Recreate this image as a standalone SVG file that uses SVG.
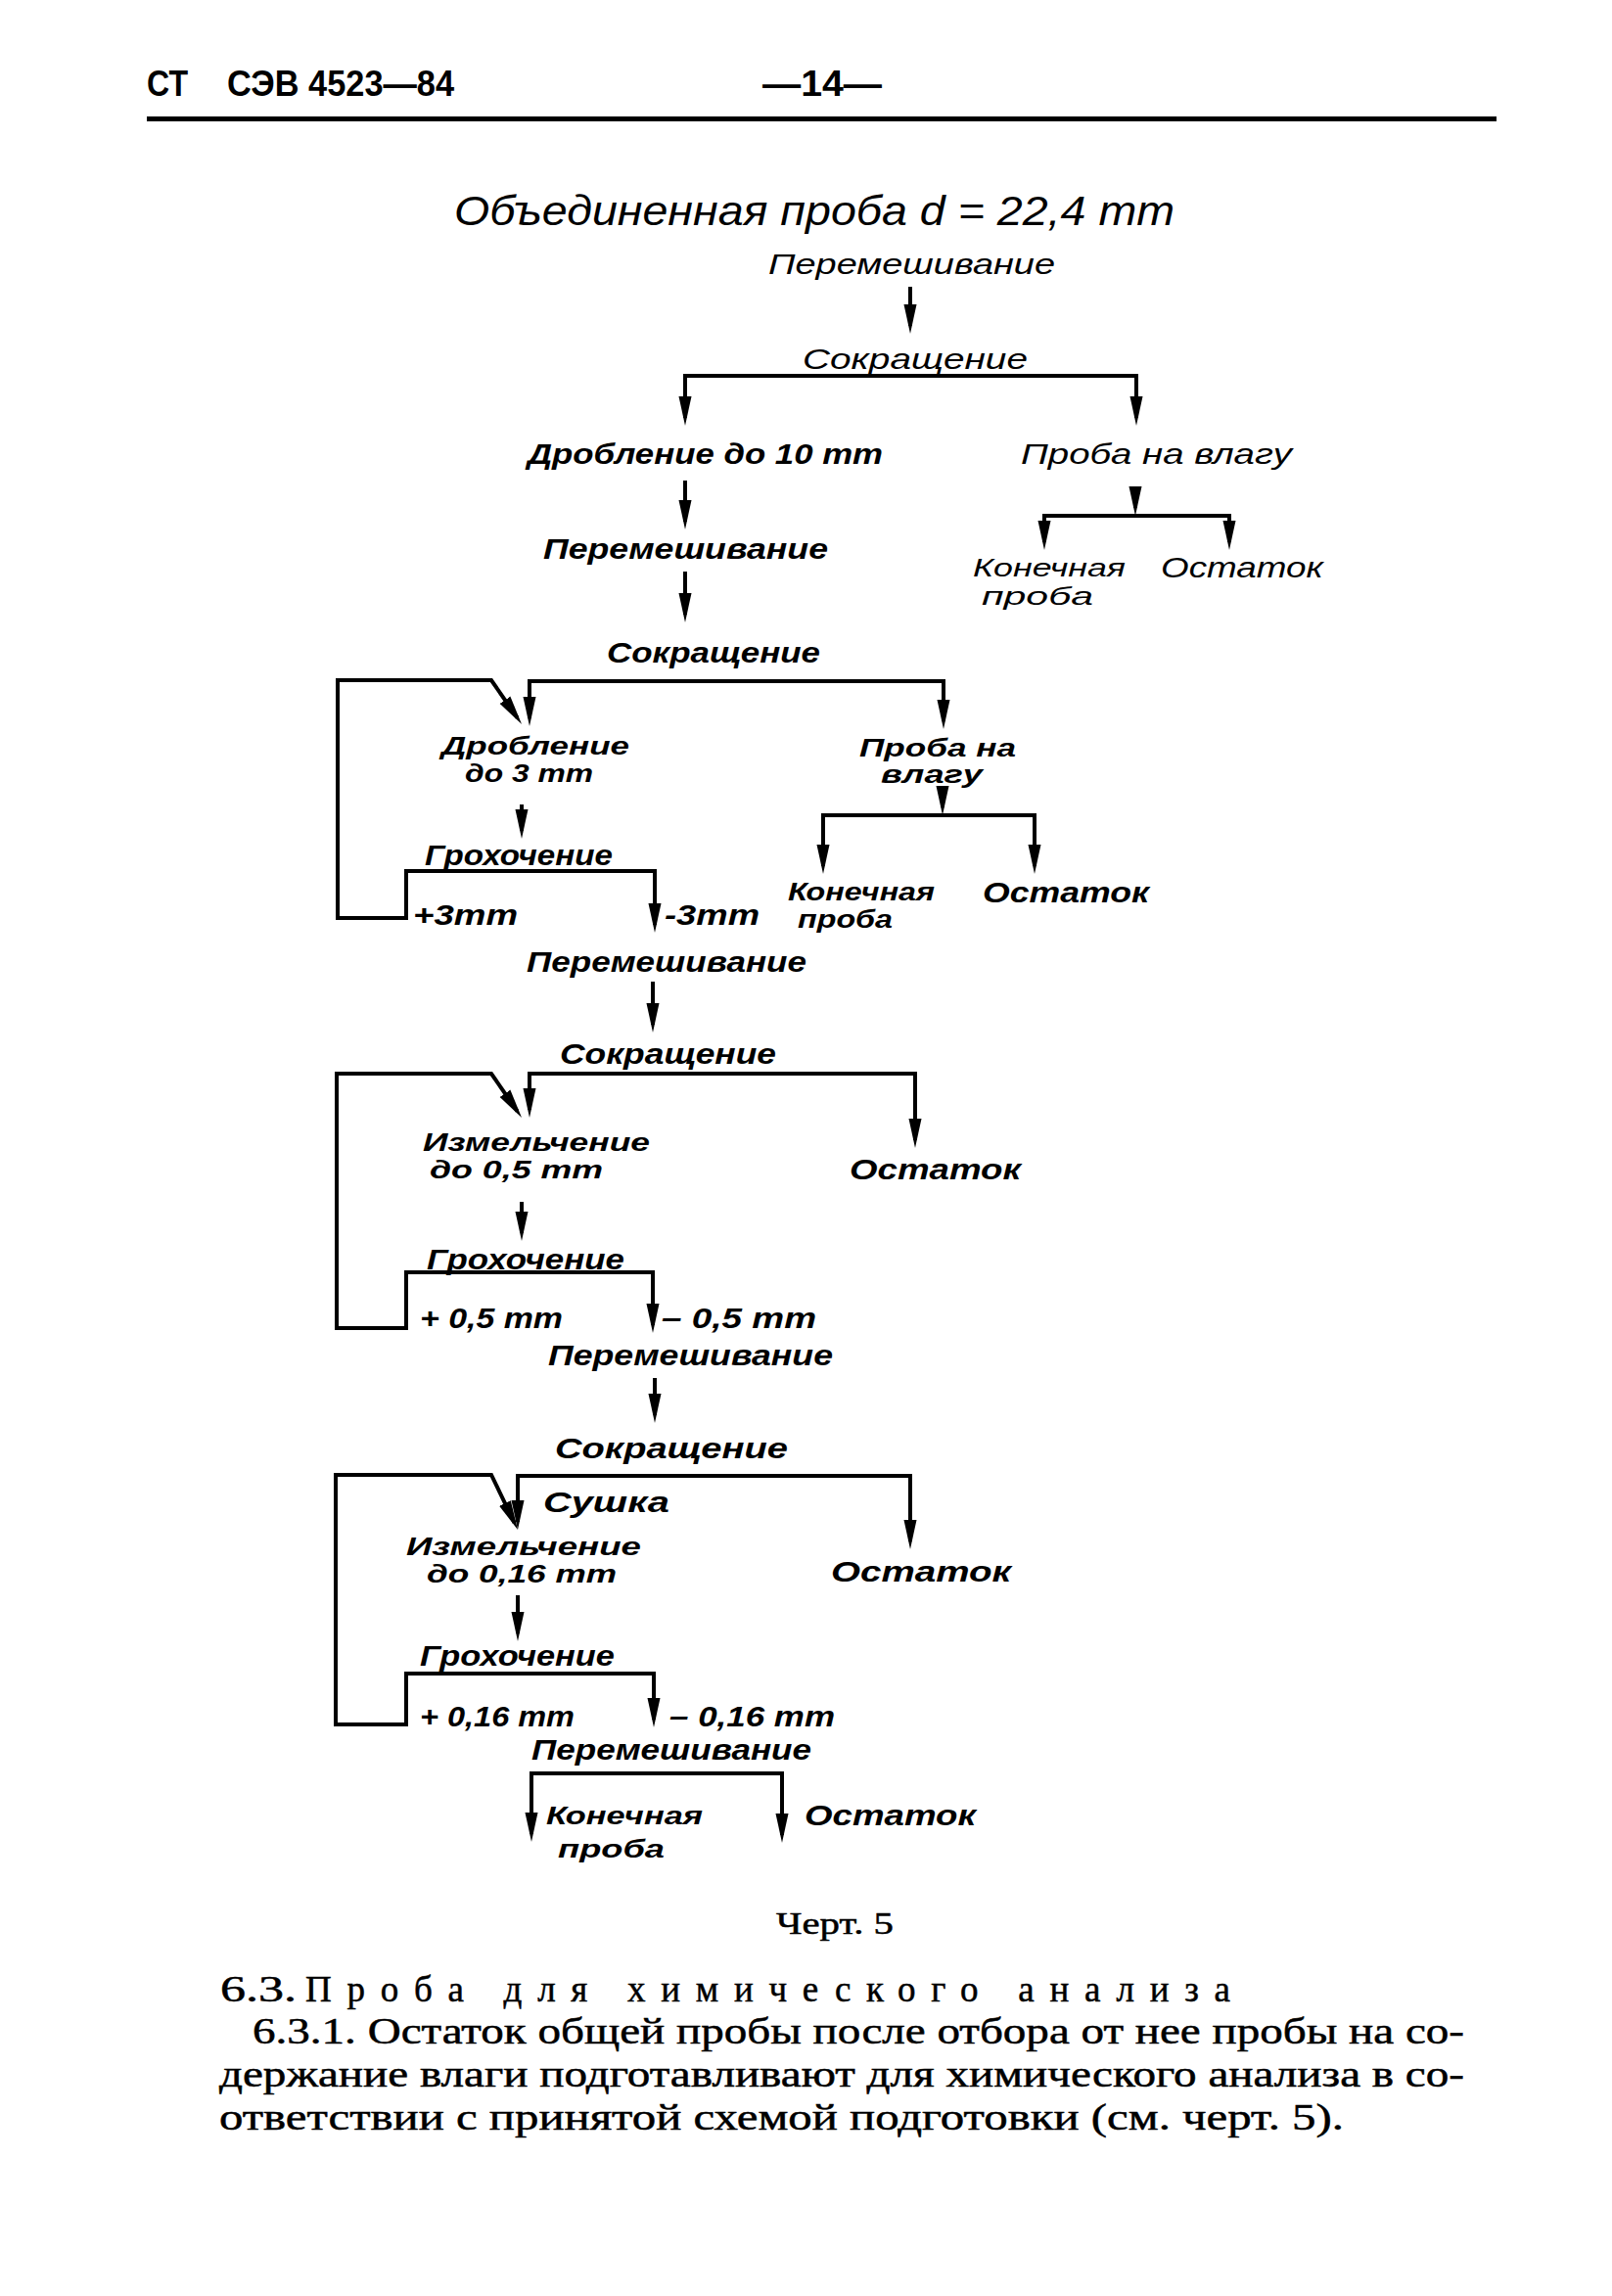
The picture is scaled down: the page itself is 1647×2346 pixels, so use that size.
<svg xmlns="http://www.w3.org/2000/svg" width="1647" height="2346" viewBox="0 0 1647 2346">
<style>
.hd{font-family:"Liberation Sans Narrow","Liberation Sans",sans-serif;font-weight:bold;font-size:36px;fill:#000}
.l{font-family:"Liberation Sans Narrow","Liberation Sans","DejaVu Sans",sans-serif;font-style:italic;font-size:30px;fill:#000}
.s{font-size:25px}
.lt{font-weight:normal}
.b{font-weight:bold}
.bd{font-family:"Liberation Serif","DejaVu Serif",serif;font-size:37px;fill:#000;stroke:#000;stroke-width:0.5px}
.ln{fill:none;stroke:#000;stroke-width:4;stroke-linejoin:miter}
.a{marker-end:url(#ah)}
.a2{marker-start:url(#ah);marker-end:url(#ah)}
</style>
<defs>
<marker id="ah" markerUnits="userSpaceOnUse" markerWidth="32" markerHeight="16" viewBox="0 0 32 16" refX="22" refY="8" orient="auto-start-reverse">
<path d="M0,1.5 L30,8 L0,14.5 Z" fill="#000"/>
</marker>
</defs>
<rect width="1647" height="2346" fill="#fff"/>

<g id="header">
<text class="hd" x="150" y="98" textLength="42" lengthAdjust="spacingAndGlyphs">СТ</text>
<text class="hd" x="232" y="98" textLength="232" lengthAdjust="spacingAndGlyphs">СЭВ 4523—84</text>
<text class="hd" x="779" y="98" textLength="122" lengthAdjust="spacingAndGlyphs">—14—</text>
<rect x="150" y="119" width="1379" height="5" fill="#000"/>
</g>

<g id="connectors">
<path class="ln a" d="M930 293 V333"/>
<path class="ln a2" d="M700 427 V384 H1161 V427"/>
<path class="ln a" d="M700 491 V533"/>
<path class="ln a" d="M1160 497 V519"/>
<path class="ln a2" d="M1067 554 V527 H1256 V554"/>
<path class="ln a" d="M700 584 V628"/>
<path class="ln a2" d="M541 734 V696 H964 V737"/>
<path class="ln a2" d="M669 945 V890 H415 V938 H345 V695 H502 L528.5 733.4"/>
<path class="ln a" d="M533 822 V849"/>
<path class="ln a" d="M963 808 V825"/>
<path class="ln a2" d="M841 885 V833 H1057 V885"/>
<path class="ln a" d="M667 1003 V1047"/>
<path class="ln a2" d="M541 1134 V1097 H935 V1165"/>
<path class="ln a2" d="M667 1354 V1300 H415 V1357 H344 V1097 H502 L528.5 1135.4"/>
<path class="ln a" d="M533 1228 V1260"/>
<path class="ln a" d="M669 1408 V1446"/>
<path class="ln a2" d="M529 1555 V1508 H930 V1575"/>
<path class="ln a2" d="M668 1757 V1710 H415 V1762 H343 V1507 H502 L525.5 1555.8"/>
<path class="ln a" d="M529 1630 V1669"/>
<path class="ln a2" d="M543 1874 V1812 H799 V1875"/>
</g>

<g id="n-title"><text class="l lt" x="464" y="230" style="font-size:42px" textLength="736" lengthAdjust="spacingAndGlyphs">Объединенная проба  d = 22,4 mm</text></g>
<g id="n-mix1"><text class="l lt" x="785" y="280" textLength="293" lengthAdjust="spacingAndGlyphs">Перемешивание</text></g>
<g id="n-red1"><text class="l lt" x="820" y="377" textLength="230" lengthAdjust="spacingAndGlyphs">Сокращение</text></g>
<g id="n-crush10"><text class="l b" x="539" y="474" textLength="363" lengthAdjust="spacingAndGlyphs">Дробление до 10 mm</text></g>
<g id="n-moist1"><text class="l lt" x="1043" y="474" textLength="277" lengthAdjust="spacingAndGlyphs">Проба на влагу</text></g>
<g id="n-mix2"><text class="l b" x="555" y="571" textLength="291" lengthAdjust="spacingAndGlyphs">Перемешивание</text></g>
<g id="n-final1">
<text class="l lt s" x="994" y="589" textLength="156" lengthAdjust="spacingAndGlyphs">Конечная</text>
<text class="l lt s" x="1003" y="618" textLength="114" lengthAdjust="spacingAndGlyphs">проба</text>
</g>
<g id="n-rest1"><text class="l lt" x="1186" y="590" textLength="166" lengthAdjust="spacingAndGlyphs">Остаток</text></g>
<g id="n-red2"><text class="l b" x="620" y="677" textLength="218" lengthAdjust="spacingAndGlyphs">Сокращение</text></g>
<g id="n-crush3">
<text class="l b s" x="451" y="771" textLength="192" lengthAdjust="spacingAndGlyphs">Дробление</text>
<text class="l b s" x="475" y="799" textLength="131" lengthAdjust="spacingAndGlyphs">до 3 mm</text>
</g>
<g id="n-moist2">
<text class="l b s" x="878" y="773" textLength="160" lengthAdjust="spacingAndGlyphs">Проба на</text>
<text class="l b s" x="900" y="800" textLength="104" lengthAdjust="spacingAndGlyphs">влагу</text>
</g>
<g id="n-screen1"><text class="l b" x="434" y="884" textLength="192" lengthAdjust="spacingAndGlyphs">Грохочение</text></g>
<g id="n-plus3"><text class="l b" x="422" y="945" textLength="107" lengthAdjust="spacingAndGlyphs">+3mm</text></g>
<g id="n-minus3"><text class="l b" x="679" y="945" textLength="97" lengthAdjust="spacingAndGlyphs">-3mm</text></g>
<g id="n-final2">
<text class="l b s" x="805" y="920" textLength="150" lengthAdjust="spacingAndGlyphs">Конечная</text>
<text class="l b s" x="815" y="948" textLength="97" lengthAdjust="spacingAndGlyphs">проба</text>
</g>
<g id="n-rest2"><text class="l b" x="1004" y="922" textLength="170" lengthAdjust="spacingAndGlyphs">Остаток</text></g>
<g id="n-mix3"><text class="l b" x="538" y="993" textLength="286" lengthAdjust="spacingAndGlyphs">Перемешивание</text></g>
<g id="n-red3"><text class="l b" x="572" y="1087" textLength="221" lengthAdjust="spacingAndGlyphs">Сокращение</text></g>
<g id="n-grind05">
<text class="l b s" x="432" y="1176" textLength="232" lengthAdjust="spacingAndGlyphs">Измельчение</text>
<text class="l b s" x="439" y="1204" textLength="177" lengthAdjust="spacingAndGlyphs">до 0,5 mm</text>
</g>
<g id="n-rest3"><text class="l b" x="868" y="1205" textLength="175" lengthAdjust="spacingAndGlyphs">Остаток</text></g>
<g id="n-screen2"><text class="l b" x="436" y="1297" textLength="202" lengthAdjust="spacingAndGlyphs">Грохочение</text></g>
<g id="n-plus05"><text class="l b" x="429" y="1357" textLength="146" lengthAdjust="spacingAndGlyphs">+ 0,5 mm</text></g>
<g id="n-minus05"><text class="l b" x="676" y="1357" textLength="158" lengthAdjust="spacingAndGlyphs">– 0,5 mm</text></g>
<g id="n-mix4"><text class="l b" x="560" y="1395" textLength="291" lengthAdjust="spacingAndGlyphs">Перемешивание</text></g>
<g id="n-red4"><text class="l b" x="567" y="1490" textLength="238" lengthAdjust="spacingAndGlyphs">Сокращение</text></g>
<g id="n-dry"><text class="l b" x="555" y="1545" textLength="129" lengthAdjust="spacingAndGlyphs">Сушка</text></g>
<g id="n-grind016">
<text class="l b s" x="415" y="1589" textLength="240" lengthAdjust="spacingAndGlyphs">Измельчение</text>
<text class="l b s" x="436" y="1617" textLength="194" lengthAdjust="spacingAndGlyphs">до 0,16 mm</text>
</g>
<g id="n-rest4"><text class="l b" x="849" y="1616" textLength="184" lengthAdjust="spacingAndGlyphs">Остаток</text></g>
<g id="n-screen3"><text class="l b" x="429" y="1702" textLength="199" lengthAdjust="spacingAndGlyphs">Грохочение</text></g>
<g id="n-plus016"><text class="l b" x="429" y="1764" textLength="158" lengthAdjust="spacingAndGlyphs">+ 0,16 mm</text></g>
<g id="n-minus016"><text class="l b" x="684" y="1764" textLength="169" lengthAdjust="spacingAndGlyphs">– 0,16 mm</text></g>
<g id="n-mix5"><text class="l b" x="543" y="1798" textLength="286" lengthAdjust="spacingAndGlyphs">Перемешивание</text></g>
<g id="n-final3">
<text class="l b s" x="558" y="1864" textLength="160" lengthAdjust="spacingAndGlyphs">Конечная</text>
<text class="l b s" x="570" y="1898" textLength="109" lengthAdjust="spacingAndGlyphs">проба</text>
</g>
<g id="n-rest5"><text class="l b" x="822" y="1865" textLength="175" lengthAdjust="spacingAndGlyphs">Остаток</text></g>

<g id="caption">
<text class="bd" x="793" y="1976" style="font-size:31px" textLength="120" lengthAdjust="spacingAndGlyphs">Черт. 5</text>
</g>
<g id="body">
<text class="bd" x="225" y="2045" textLength="78" lengthAdjust="spacingAndGlyphs">6.3.</text>
<text class="bd" x="312" y="2045" textLength="945">Проба для химического анализа</text>
<text class="bd" x="258" y="2088" textLength="1238" lengthAdjust="spacingAndGlyphs">6.3.1. Остаток общей пробы после отбора от нее пробы на со-</text>
<text class="bd" x="224" y="2132" textLength="1272" lengthAdjust="spacingAndGlyphs">держание влаги подготавливают для химического анализа в со-</text>
<text class="bd" x="224" y="2176" textLength="1149" lengthAdjust="spacingAndGlyphs">ответствии с принятой схемой подготовки (см. черт. 5).</text>
</g>
</svg>
